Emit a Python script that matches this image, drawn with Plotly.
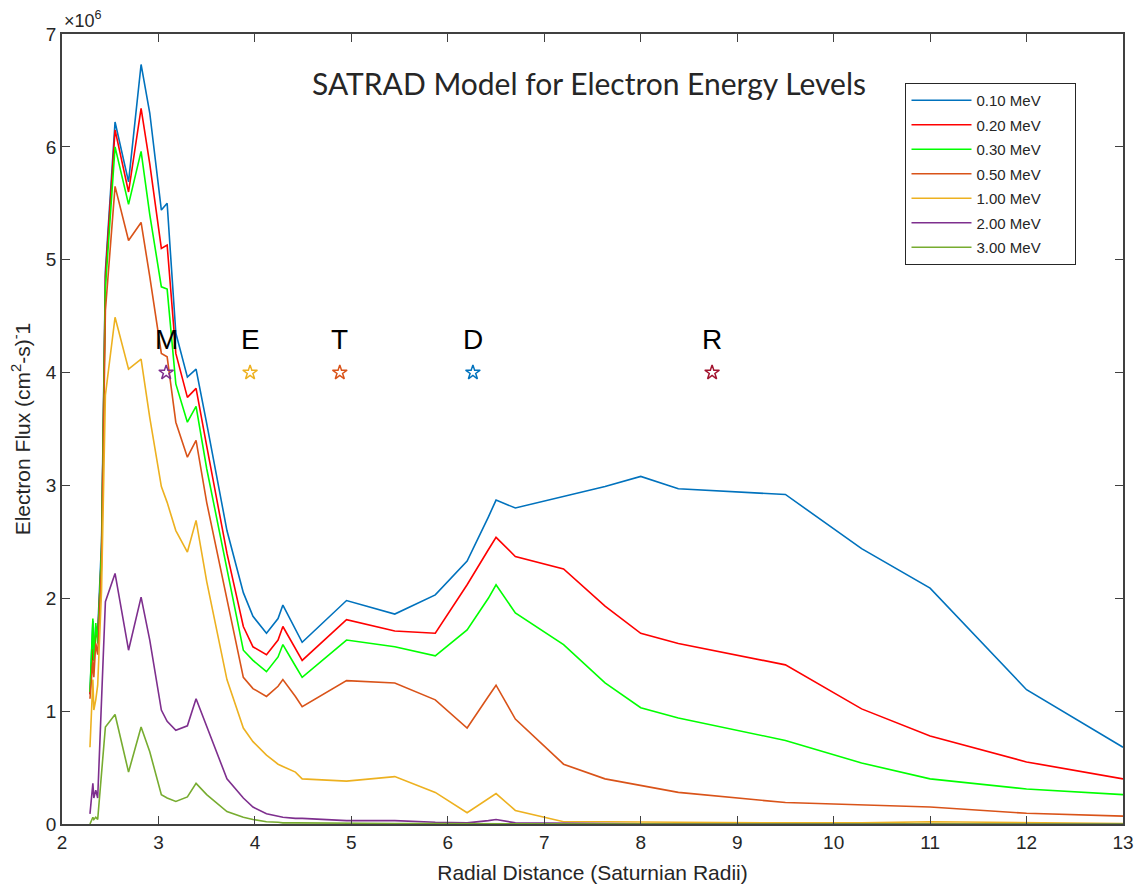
import plotly.graph_objects as go

# Radial distance grid (Saturn radii)
radial_distance = [2.29, 2.32, 2.33, 2.35, 2.37, 2.41, 2.45, 2.55, 2.69, 2.82, 2.91,
                   3.03, 3.09, 3.18, 3.30, 3.39, 3.50, 3.71, 3.88, 3.98, 4.12, 4.24,
                   4.29, 4.42, 4.49, 4.95, 5.45, 5.87, 6.20, 6.42, 6.50, 6.70, 7.20,
                   7.63, 8.00, 8.39, 9.50, 10.29, 11.00, 12.00, 13.00]

# Electron flux in units of 1e6 (cm^2-s)^-1, one list per energy level
flux_010 = [1.15, 1.80, 1.45, 1.75, 1.70, 2.50, 4.90, 6.22, 5.69, 6.73, 6.30,
            5.44, 5.50, 4.35, 3.96, 4.03, 3.55, 2.60, 2.05, 1.84, 1.69, 1.82,
            1.94, 1.72, 1.61, 1.98, 1.86, 2.03, 2.33, 2.72, 2.87, 2.80, 2.90,
            2.99, 3.08, 2.97, 2.92, 2.44, 2.09, 1.19, 0.68]
flux_020 = [1.15, 1.55, 1.45, 1.70, 1.65, 2.40, 4.85, 6.15, 5.60, 6.34, 5.85,
            5.10, 5.13, 4.17, 3.78, 3.86, 3.35, 2.40, 1.75, 1.57, 1.50, 1.63,
            1.75, 1.55, 1.45, 1.81, 1.71, 1.69, 2.12, 2.43, 2.54, 2.37, 2.26,
            1.93, 1.69, 1.60, 1.41, 1.02, 0.78, 0.55, 0.40]
flux_030 = [1.17, 1.82, 1.45, 1.78, 1.60, 2.43, 4.75, 6.00, 5.49, 5.96, 5.40,
            4.76, 4.74, 3.90, 3.56, 3.70, 3.15, 2.25, 1.54, 1.45, 1.35, 1.48,
            1.59, 1.40, 1.30, 1.63, 1.57, 1.49, 1.72, 2.00, 2.12, 1.87, 1.59,
            1.25, 1.03, 0.94, 0.74, 0.54, 0.40, 0.31, 0.26]
flux_050 = [1.11, 1.45, 1.30, 1.60, 1.50, 2.30, 4.55, 5.65, 5.17, 5.33, 4.85,
            4.17, 4.14, 3.56, 3.25, 3.40, 2.85, 2.01, 1.30, 1.20, 1.13, 1.22,
            1.28, 1.13, 1.04, 1.27, 1.25, 1.10, 0.85, 1.13, 1.23, 0.93, 0.53,
            0.40, 0.34, 0.28, 0.19, 0.17, 0.15, 0.095, 0.07]
flux_100 = [0.68, 1.28, 1.01, 1.10, 1.23, 2.07, 3.80, 4.49, 4.03, 4.12, 3.60,
            2.99, 2.85, 2.60, 2.41, 2.69, 2.15, 1.28, 0.85, 0.73, 0.61, 0.53,
            0.51, 0.46, 0.40, 0.38, 0.42, 0.28, 0.10, 0.22, 0.27, 0.12, 0.02,
            0.02, 0.02, 0.015, 0.01, 0.01, 0.02, 0.01, 0.005]
flux_200 = [0.09, 0.36, 0.23, 0.30, 0.23, 1.10, 1.97, 2.22, 1.54, 2.01, 1.63,
            1.01, 0.91, 0.83, 0.87, 1.11, 0.86, 0.40, 0.23, 0.15, 0.09, 0.065,
            0.06, 0.05, 0.05, 0.03, 0.03, 0.015, 0.01, 0.03, 0.04, 0.01, 0.005,
            0.003, 0.002, 0.002, 0.001, 0.001, 0.001, 0.0, 0.0]
flux_300 = [0.00, 0.06, 0.04, 0.06, 0.04, 0.45, 0.86, 0.97, 0.46, 0.86, 0.64,
            0.26, 0.23, 0.20, 0.24, 0.36, 0.26, 0.11, 0.06, 0.04, 0.02, 0.015,
            0.01, 0.01, 0.01, 0.005, 0.005, 0.003, 0.002, 0.003, 0.004, 0.002, 0.001,
            0.0, 0.0, 0.0, 0.0, 0.0, 0.0, 0.0, 0.0]

energy_labels = ["0.10 MeV", "0.20 MeV", "0.30 MeV", "0.50 MeV",
                 "1.00 MeV", "2.00 MeV", "3.00 MeV"]
series = [flux_010, flux_020, flux_030, flux_050, flux_100, flux_200, flux_300]
line_colors = ["#0072BD", "#FF0000", "#00FF00", "#D95319",
               "#EDB120", "#7E2F8E", "#77AC30"]

# Moon orbits (Mimas, Enceladus, Tethys, Dione, Rhea)
moon_letters = ["M", "E", "T", "D", "R"]
moon_distance = [3.08, 3.95, 4.88, 6.26, 8.74]
moon_marker_level = [4.0, 4.0, 4.0, 4.0, 4.0]
moon_colors = ["#7E2F8E", "#EDB120", "#D95319", "#0072BD", "#A2142F"]

fig = go.Figure()

# trailing no-break spaces pad the legend box on the right
pad = "\u00a0" * 7
for i, (label, values, color) in enumerate(zip(energy_labels, series, line_colors)):
    fig.add_trace(go.Scatter(
        x=radial_distance, y=values, mode="lines", name=label + pad,
        legendgroup=f"g{i}",
        line=dict(color=color, width=1.6),
    ))

fig.add_trace(go.Scatter(
    x=moon_distance, y=moon_marker_level, mode="markers", showlegend=False,
    marker=dict(symbol="star-open", size=11, color=moon_colors,
                line=dict(width=1.5, color=moon_colors)),
))

for letter, xpos, ypos in zip(moon_letters, moon_distance, moon_marker_level):
    fig.add_annotation(x=xpos, y=ypos, text=letter, showarrow=False,
                       yshift=33, font=dict(family="Liberation Sans, Arial", size=28,
                                            color="#000000"))

fig.add_annotation(x=0.497, y=0.938, xref="paper", yref="paper",
                   text="SATRAD Model for Electron Energy Levels", showarrow=False,
                   xanchor="center", yanchor="middle",
                   font=dict(family="Lato, Open Sans", size=30, color="#262626"))

fig.add_annotation(x=0.0, y=1.0, xref="paper", yref="paper",
                   text="\u00d710<sup>6</sup>", showarrow=False,
                   xanchor="left", yanchor="bottom", yshift=1,
                   font=dict(family="Liberation Sans, Arial", size=18, color="#262626"))

tick_font = dict(family="Liberation Sans, Arial", size=19, color="#262626")
title_font = dict(family="Liberation Sans, Arial", size=21, color="#262626")

fig.update_layout(
    width=1144, height=888,
    margin=dict(l=62, r=21, t=34, b=64, autoexpand=False),
    paper_bgcolor="white", plot_bgcolor="white",
    showlegend=True,
    legend=dict(x=0.795, y=0.938, xanchor="left", yanchor="top",
                bordercolor="#262626", borderwidth=1, bgcolor="white",
                font=dict(family="Liberation Sans, Arial", size=15, color="#262626"),
                tracegroupgap=2, itemwidth=60),
    xaxis=dict(range=[2, 13], tickmode="array", tickvals=list(range(2, 14)),
               ticks="inside", ticklen=8, tickcolor="#404040", automargin=False,
               showline=True, linecolor="#404040", linewidth=1.5, mirror="ticks",
               showgrid=False, zeroline=False, tickfont=tick_font,
               title=dict(text="Radial Distance (Saturnian Radii)", font=title_font,
                          standoff=14)),
    yaxis=dict(range=[0, 7], tickmode="array", tickvals=list(range(0, 8)),
               ticks="inside", ticklen=8, tickcolor="#404040", automargin=False,
               showline=True, linecolor="#404040", linewidth=1.5, mirror="ticks",
               showgrid=False, zeroline=False, tickfont=tick_font,
               title=dict(text="Electron Flux (cm<sup>2</sup>-s)<sup>-</sup>1",
                          font=title_font, standoff=10)),
)

fig.write_html("out.html")
